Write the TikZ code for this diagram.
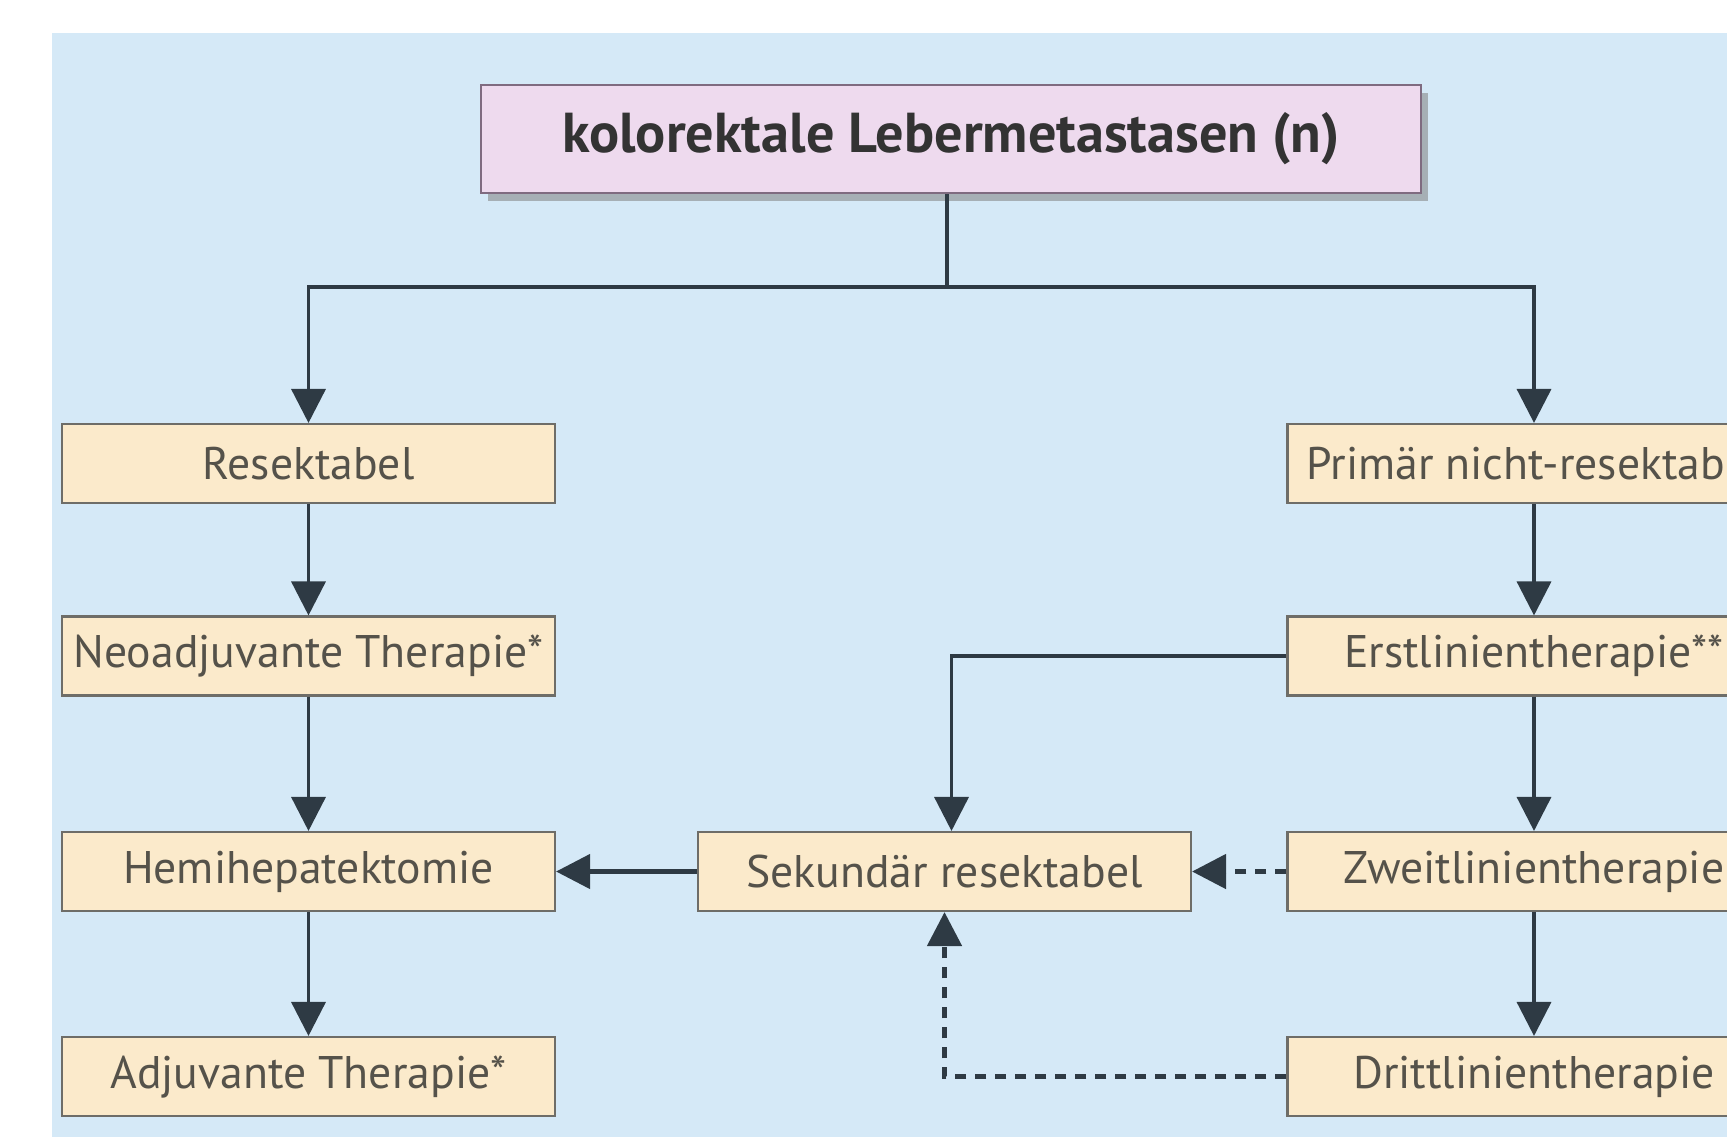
\documentclass[tikz,border=0pt]{standalone}
\usepackage{fontspec}
\setmainfont{PT Sans}
\usetikzlibrary{arrows.meta,shadows}
\definecolor{bgblue}{HTML}{D5E9F7}
\definecolor{boxfill}{HTML}{FBEACB}
\definecolor{boxline}{HTML}{6E6D68}
\definecolor{boxtext}{HTML}{55524A}
\definecolor{topfill}{HTML}{EEDAEE}
\definecolor{topline}{HTML}{7F6B80}
\definecolor{linecol}{HTML}{2E3A44}
\begin{document}
\begin{tikzpicture}[
  box/.style={draw=boxline, line width=0.6pt, fill=boxfill, minimum width=4.93cm, minimum height=0.79cm, inner sep=0pt, text=boxtext, font=\fontsize{13}{15}\selectfont},
  link/.style={draw=linecol, line width=1pt, -{Triangle[width=0.34cm,length=0.34cm]}},
  dlink/.style={link, line width=1.4pt, dash pattern=on 1.1mm off 0.9mm}
]
  \clip (0,0) rectangle (17.27,-11.37);
  \fill[bgblue] (0.52,-0.33) rectangle (17.27,-11.37);
  % top
  \node[draw=topline, line width=0.8pt, fill=topfill, minimum width=9.4cm, minimum height=1.08cm, text=black!80, font=\fontsize{16}{19}\selectfont\bfseries, drop shadow={shadow xshift=0.07cm, shadow yshift=-0.08cm, opacity=0.55}] (klm) at (9.51,-1.39) {kolorektale Lebermetastasen (n)};
  % left column
  \node[box] (res) at (3.085,-4.635) {Resektabel};
  \node[box] (neo) at (3.085,-6.56) {Neoadjuvante Therapie*};
  \node[box] (hemi) at (3.085,-8.715) {Hemihepatektomie};
  \node[box] (adj) at (3.085,-10.765) {Adjuvante Therapie*};
  % middle
  \node[box] (sek) at (9.445,-8.715) {Sekundär resektabel};
  % right column
  \node[box] (prim) at (15.34,-4.635) {Primär nicht-resektabel};
  \node[box] (erst) at (15.34,-6.56) {Erstlinientherapie**};
  \node[box] (zweit) at (15.34,-8.715) {Zweitlinientherapie};
  \node[box] (dritt) at (15.34,-10.765) {Drittlinientherapie};
  \coordinate (split) at ([xshift=-0.04cm]klm.south |- 0,-2.87);
  \draw[draw=linecol, line width=1pt] ([xshift=-0.04cm]klm.south) -- (split);
  \draw[link] (split) -| (res.north);
  \draw[link] (split) -| (prim.north);
  \draw[link] (res) -- (neo);
  \draw[link] (neo) -- (hemi);
  \draw[link] (hemi) -- (adj);
  \draw[link] (prim) -- (erst);
  \draw[link] (erst) -- (zweit);
  \draw[link] (zweit) -- (dritt);
  \draw[link] (erst.west) -| ([xshift=0.07cm]sek.north);
  \draw[link, line width=1.3pt] (sek.west) -- (hemi.east);
  \draw[dlink] (zweit.west) -- (sek.east);
  \draw[dlink] (dritt.west) -| (sek.south);
\end{tikzpicture}
\end{document}
